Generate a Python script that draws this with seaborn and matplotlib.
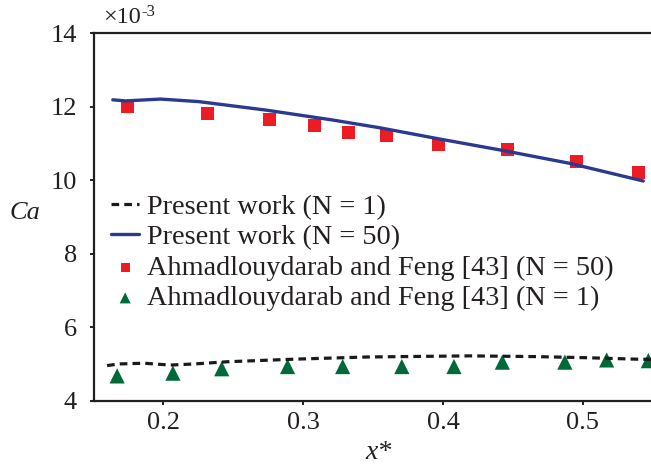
import matplotlib
matplotlib.use("Agg")
import matplotlib.pyplot as plt
import seaborn as sns

# Present work, N = 50 (solid curve)
x_n50 = [0.1638, 0.1729, 0.198, 0.2254, 0.2733, 0.321, 0.3545, 0.3951, 0.4429, 0.4907, 0.5432]
ca_n50 = [12.19, 12.16, 12.21, 12.14, 11.91, 11.64, 11.43, 11.14, 10.81, 10.46, 9.98]

# Present work, N = 1 (dashed curve)
x_n1 = [0.1597, 0.168, 0.186, 0.205, 0.222, 0.2457, 0.2935, 0.346, 0.419, 0.4668, 0.5027, 0.5385, 0.56]
ca_n1 = [4.955, 5.0, 5.02, 4.97, 5.0, 5.06, 5.13, 5.19, 5.22, 5.2, 5.17, 5.13, 5.12]

# Ahmadlouydarab and Feng [43], N = 50 (squares)
x_ref50 = [0.1746, 0.2314, 0.2756, 0.3079, 0.3325, 0.3597, 0.3968, 0.446, 0.4955, 0.5397]
ca_ref50 = [12.00, 11.82, 11.65, 11.49, 11.31, 11.21, 10.96, 10.84, 10.51, 10.21]

# Ahmadlouydarab and Feng [43], N = 1 (triangles)
x_ref1 = [0.1669, 0.2068, 0.2417, 0.2888, 0.3282, 0.3705, 0.4078, 0.4424, 0.4871, 0.517, 0.5468]
ca_ref1 = [4.675, 4.75, 4.87, 4.93, 4.93, 4.93, 4.93, 5.05, 5.05, 5.11, 5.09]

x_ticks = [0.2, 0.3, 0.4, 0.5]
y_ticks = [4, 6, 8, 10, 12, 14]

sns.set_style("ticks")
plt.rcParams["font.family"] = ["Liberation Serif", "DejaVu Serif"]

fig = plt.figure(figsize=(6.51, 4.67), dpi=100)
ax = fig.add_axes([93.5 / 651, 1 - 400.7 / 467, (652.8 - 93.5) / 651, (400.7 - 33.3) / 467])

ink = "#231f20"
blue = "#2B3990"
red = "#ED1C24"
green = "#00693A"

sns.lineplot(x=x_n1, y=ca_n1, ax=ax, color="#1a1a1a", lw=2.3,
             linestyle=(0, (2.4, 1.6)), label="Present work (N = 1)", sort=False)
sns.lineplot(x=x_n50, y=ca_n50, ax=ax, color=blue, lw=2.4,
             label="Present work (N = 50)", sort=False)
sns.scatterplot(x=x_ref50, y=ca_ref50, ax=ax, marker="s", s=85, color=red,
                edgecolor="none", label="Ahmadlouydarab and Feng [43] (N = 50)")
sns.scatterplot(x=x_ref1, y=ca_ref1, ax=ax, marker="^", s=120, color=green,
                edgecolor="none", label="Ahmadlouydarab and Feng [43] (N = 1)")

ax.set_xlim(0.15, 0.55)
ax.set_ylim(4, 14)
ax.set_xticks(x_ticks)
ax.set_xticklabels([f"{t:.1f}" for t in x_ticks])
ax.set_yticks(y_ticks)
ax.set_yticklabels([str(t) for t in y_ticks])

for side in ["left", "bottom", "top"]:
    ax.spines[side].set_linewidth(1.6)
    ax.spines[side].set_color(ink)
ax.spines["right"].set_visible(False)

ax.tick_params(axis="both", direction="out", length=3, width=1.4, color=ink,
               labelsize=19, labelcolor=ink)
ax.tick_params(axis="y", pad=9)
ax.tick_params(axis="x", pad=5)

ax.set_xlabel("x*", fontsize=20, style="italic", color=ink)
ax.xaxis.set_label_coords(0.509, -0.14)
ax.set_ylabel("Ca", fontsize=19, style="italic", color=ink, rotation=0)
ax.yaxis.set_label_coords(-0.1225, 0.511)
ax.yaxis.label.set_va("center")
ax.yaxis.label.set_ha("center")
ax.xaxis.label.set_va("center")

fig.text(103 / 651, 1 - 23 / 467, "\u00d710", fontsize=17.5, color=ink, va="baseline")
fig.text(141 / 651, 1 - 16 / 467, "-3", fontsize=12, color=ink, va="baseline")

leg = ax.legend(loc="upper left", bbox_to_anchor=(0.0314, 0.5626), frameon=False,
                fontsize=20.3, handlelength=1.0, handletextpad=0.28,
                labelspacing=0.17, borderpad=0, borderaxespad=0, markerscale=0.72)
for t in leg.get_texts():
    t.set_color(ink)

fig.savefig("out.png", dpi=100)
